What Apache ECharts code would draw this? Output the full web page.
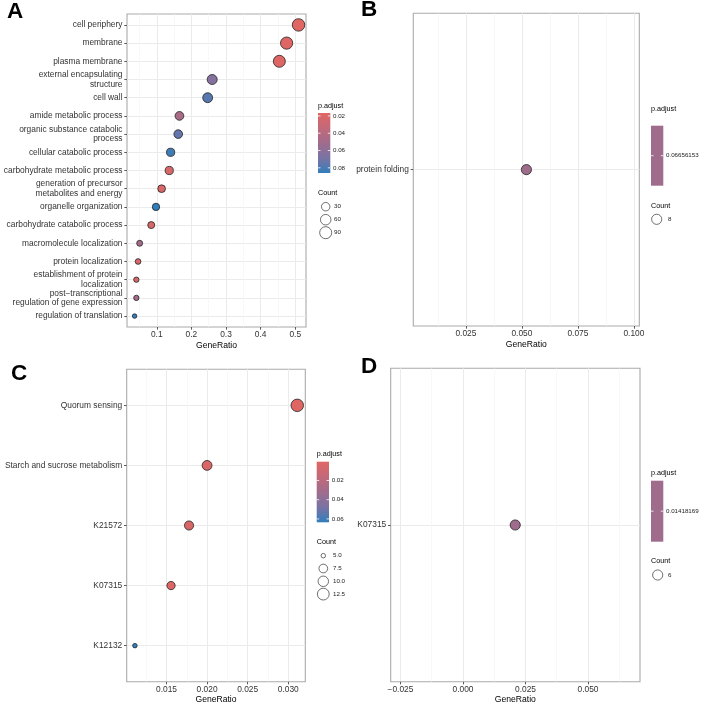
<!DOCTYPE html>
<html>
<head>
<meta charset="utf-8">
<title>Enrichment dot plots A-D</title>
<script src="https://cdn.jsdelivr.net/npm/echarts@6/dist/echarts.min.js"></script>
<style>
  html, body { margin: 0; padding: 0; background: #fff; }
  #chart { width: 709px; height: 708px; }
</style>
</head>
<body>
<div id="chart"></div>
<script>
// ---- panel A (GO terms), top to bottom ----
const termsA = [
  'cell periphery', 'membrane', 'plasma membrane',
  'external encapsulating\nstructure', 'cell wall', 'amide metabolic process',
  'organic substance catabolic\nprocess', 'cellular catabolic process',
  'carbohydrate metabolic process', 'generation of precursor\nmetabolites and energy',
  'organelle organization', 'carbohydrate catabolic process',
  'macromolecule localization', 'protein localization',
  'establishment of protein\nlocalization', 'post\u2212transcriptional\nregulation of gene expression',
  'regulation of translation'
];
const ratioA = [0.5095, 0.475, 0.454, 0.260, 0.247, 0.1655, 0.162, 0.140, 0.136, 0.114, 0.0977, 0.084, 0.0506, 0.046, 0.041, 0.041, 0.036];
const countA = [100, 93, 89, 51, 49, 33, 32, 27, 27, 22, 19, 16, 10, 9, 8, 8, 7];
const padjA  = [0.0166, 0.0172, 0.018, 0.064, 0.077, 0.047, 0.074, 0.083, 0.021, 0.021, 0.086, 0.021, 0.05, 0.022, 0.022, 0.048, 0.086];
const ticksA = [0.1, 0.2, 0.3, 0.4, 0.5];
const minorA = [0.05, 0.15, 0.25, 0.35, 0.45];
const padjTicksA = [0.02, 0.04, 0.06, 0.08];
const countTicksA = [30, 60, 90];

// ---- panel B ----
const termsB = ['protein folding'];
const ratioB = [0.052];
const countB = [8];
const padjB  = [0.06656153];
const ticksB = [0.025, 0.05, 0.075, 0.1];
const minorB = [0.0125, 0.0375, 0.0625, 0.0875];
const padjTicksB = ['0.06656153'];
const countTicksB = [8];

// ---- panel C (KEGG) ----
const termsC = ['Quorum sensing', 'Starch and sucrose metabolism', 'K21572', 'K07315', 'K12132'];
const ratioC = [0.03111, 0.02, 0.01778, 0.01556, 0.01111];
const countC = [14, 9, 8, 7, 5];
const padjC  = [0.0004, 0.0035, 0.0035, 0.0014, 0.0635];
const ticksC = [0.015, 0.02, 0.025, 0.03];
const minorC = [0.0125, 0.0175, 0.0225, 0.0275];
const padjTicksC = [0.02, 0.04, 0.06];
const countTicksC = [5, 7.5, 10, 12.5];

// ---- panel D ----
const termsD = ['K07315'];
const ratioD = [0.0209];
const countD = [6];
const padjD  = [0.01418169];
const ticksD = [-0.025, 0, 0.025, 0.05];
const minorD = [-0.0125, 0.0125, 0.0375, 0.0625];
const padjTicksD = ['0.01418169'];
const countTicksD = [6];

const FONT = '"Liberation Sans", Arial, Helvetica, sans-serif';
// low p.adjust -> red, high -> blue (approximate Lab blend stops)
const palette = ['#e06663', '#c2697a', '#a06c8c', '#7a73a4', '#327eba'];
const LABEL_COLOR = '#333';

const panels = [
  { letter: 'A', letterPos: [7, 12], terms: termsA, ratio: ratioA, count: countA, padj: padjA,
    ticks: ticksA, minor: minorA, digits: 1, xMin: 0.014, xMax: 0.531,
    grid: { left: 127, top: 14, width: 179, height: 313 }, nameGap: 14,
    leg: { x: 318, titleY: 105.7, barTop: 113, barH: 60, pTicks: padjTicksA,
           cTitleY: 192.7, cY0: 206.7, cStep: 13, cVals: countTicksA, cx: 325.7, labX: 334 } },
  { letter: 'B', letterPos: [361, 10], terms: termsB, ratio: ratioB, count: countB, padj: padjB,
    ticks: ticksB, minor: minorB, digits: 3, xMin: 0.0015, xMax: 0.1024,
    grid: { left: 413.3, top: 13.3, width: 226, height: 312.7 }, nameGap: 14,
    leg: { x: 651, titleY: 109, barTop: 125.7, barH: 60, pTicks: padjTicksB,
           cTitleY: 205.7, cY0: 219.3, cStep: 13, cVals: countTicksB, cx: 656.7, labX: 668 } },
  { letter: 'C', letterPos: [11, 373.5], terms: termsC, ratio: ratioC, count: countC, padj: padjC,
    ticks: ticksC, minor: minorC, digits: 3, xMin: 0.0101, xMax: 0.0321,
    grid: { left: 126.7, top: 369.3, width: 178.6, height: 312.4 }, nameGap: 13.5,
    leg: { x: 316.7, titleY: 454.3, barTop: 461.7, barH: 60.6, pTicks: padjTicksC,
           cTitleY: 541.7, cY0: 555.7, cStep: 12.8, cVals: countTicksC, cx: 323.3, labX: 333 } },
  { letter: 'D', letterPos: [361, 367], terms: termsD, ratio: ratioD, count: countD, padj: padjD,
    ticks: ticksD, minor: minorD, digits: 3, xMin: -0.0289, xMax: 0.0708,
    grid: { left: 390.7, top: 368.3, width: 249.3, height: 313.4 }, nameGap: 13,
    leg: { x: 651, titleY: 473.3, barTop: 480.7, barH: 61, pTicks: padjTicksD,
           cTitleY: 561, cY0: 575, cStep: 13, cVals: countTicksD, cx: 657.7, labX: 668 } }
];

// ggplot-like size scale: area ~ rescaled count, diameter 4.5..12.5 px
function sizeScale(counts) {
  const lo = Math.min(...counts), hi = Math.max(...counts);
  return c => {
    let t = hi > lo ? (c - lo) / (hi - lo) : 0.5;
    t = Math.max(0, Math.min(1, t));
    return 4.5 + 8 * Math.sqrt(t);
  };
}

function fmtX(v, digits) {
  return v.toFixed(digits).replace('-', '\u2212');
}

const grids = [], xAxes = [], yAxes = [], series = [], visualMaps = [], graphics = [];

panels.forEach((p, i) => {
  const n = p.terms.length;
  const idx = p.terms.map((_, k) => k);
  const size = sizeScale(p.count);
  const pLo = Math.min(...p.padj), pHi = Math.max(...p.padj);
  const single = pHi === pLo;

  grids.push(Object.assign({ show: true, borderColor: '#aaaaaa', borderWidth: 1.1, backgroundColor: '#fff' }, p.grid));

  // major x axis
  xAxes.push({
    type: 'value', gridIndex: i, min: p.xMin, max: p.xMax, position: 'bottom',
    name: 'GeneRatio', nameLocation: 'middle', nameGap: p.nameGap,
    nameTextStyle: { fontFamily: FONT, fontSize: 8.6, color: '#000' },
    axisLine: { show: false, onZero: false },
    axisTick: { show: true, length: 2.7, customValues: p.ticks, lineStyle: { color: '#333', width: 0.8 } },
    axisLabel: { show: true, customValues: p.ticks, margin: 3.5, fontFamily: FONT, fontSize: 8.4, color: LABEL_COLOR,
                 formatter: v => fmtX(v, p.digits), hideOverlap: false },
    splitLine: { show: true, lineStyle: { color: '#ebebeb', width: 1 } }
  });
  // minor gridlines
  xAxes.push({
    type: 'value', gridIndex: i, min: p.xMin, max: p.xMax, position: 'bottom',
    axisLine: { show: false, onZero: false },
    axisTick: { show: false, customValues: p.minor },
    axisLabel: { show: false, customValues: p.minor },
    splitLine: { show: true, lineStyle: { color: '#f5f5f5', width: 0.7 } }
  });

  yAxes.push({
    type: 'value', gridIndex: i, min: -0.6, max: n - 0.4, inverse: true, position: 'left',
    axisLine: { show: false, onZero: false },
    axisTick: { show: true, length: 2.7, customValues: idx, lineStyle: { color: '#333', width: 0.8 } },
    axisLabel: { show: true, customValues: idx, margin: 4.5, fontFamily: FONT, fontSize: 8.4, color: LABEL_COLOR,
                 lineHeight: 9.4, align: 'right', formatter: v => p.terms[Math.round(v)], hideOverlap: false },
    splitLine: { show: true, lineStyle: { color: '#ebebeb', width: 1 } }
  });

  series.push({
    type: 'scatter', xAxisIndex: i * 2, yAxisIndex: i,
    data: p.ratio.map((r, k) => [r, k, p.count[k], p.padj[k]]),
    symbolSize: d => size(d[2]),
    itemStyle: { opacity: 1, borderColor: '#222', borderWidth: 0.8 },
    z: 5
  });

  visualMaps.push({
    type: 'continuous', show: false, seriesIndex: i, dimension: 3,
    min: single ? pLo - 1 : pLo, max: single ? pHi + 1 : pHi,
    inRange: { color: palette }
  });

  // panel letter
  graphics.push({ type: 'text', x: p.letterPos[0], y: p.letterPos[1],
    style: { text: p.letter, fontFamily: FONT, fontWeight: 'bold', fontSize: 22.5, fill: '#000', verticalAlign: 'middle' } });

  // p.adjust colour bar
  const L = p.leg;
  graphics.push({ type: 'text', x: L.x, y: L.titleY,
    style: { text: 'p.adjust', fontFamily: FONT, fontSize: 7.2, fill: '#000', verticalAlign: 'middle' } });
  const midColor = echarts.color.lerp(0.5, palette);
  const fill = single ? midColor : {
    type: 'linear', x: 0, y: 0, x2: 0, y2: 1,
    colorStops: palette.map((c, k) => ({ offset: k / (palette.length - 1), color: c }))
  };
  graphics.push({ type: 'rect', shape: { x: L.x, y: L.barTop, width: 12.3, height: L.barH }, style: { fill: fill } });
  L.pTicks.forEach(v => {
    const y = single ? L.barTop + L.barH / 2 : L.barTop + (v - pLo) / (pHi - pLo) * L.barH;
    graphics.push({ type: 'line', shape: { x1: L.x, y1: y, x2: L.x + 2.5, y2: y }, style: { stroke: '#fff', lineWidth: 0.8 } });
    graphics.push({ type: 'line', shape: { x1: L.x + 9.8, y1: y, x2: L.x + 12.3, y2: y }, style: { stroke: '#fff', lineWidth: 0.8 } });
    graphics.push({ type: 'text', x: L.x + 15, y: y,
      style: { text: typeof v === 'string' ? v : v.toFixed(2), fontFamily: FONT, fontSize: 6.2, fill: '#222', verticalAlign: 'middle' } });
  });

  // Count size legend
  graphics.push({ type: 'text', x: L.x, y: L.cTitleY,
    style: { text: 'Count', fontFamily: FONT, fontSize: 7.2, fill: '#000', verticalAlign: 'middle' } });
  L.cVals.forEach((c, k) => {
    const y = L.cY0 + k * L.cStep;
    graphics.push({ type: 'circle', shape: { cx: L.cx, cy: y, r: size(c) / 2 },
      style: { fill: '#fff', stroke: '#333', lineWidth: 0.7 } });
    const txt = (p.letter === 'C') ? c.toFixed(1) : String(c);
    graphics.push({ type: 'text', x: L.labX, y: y,
      style: { text: txt, fontFamily: FONT, fontSize: 6.2, fill: '#222', verticalAlign: 'middle' } });
  });
});

const chart = echarts.init(document.getElementById('chart'), null, { renderer: 'canvas' });
chart.setOption({
  animation: false,
  backgroundColor: '#fff',
  textStyle: { fontFamily: FONT },
  grid: grids,
  xAxis: xAxes,
  yAxis: yAxes,
  visualMap: visualMaps,
  series: series,
  graphic: { elements: graphics }
});
</script>
</body>
</html>
